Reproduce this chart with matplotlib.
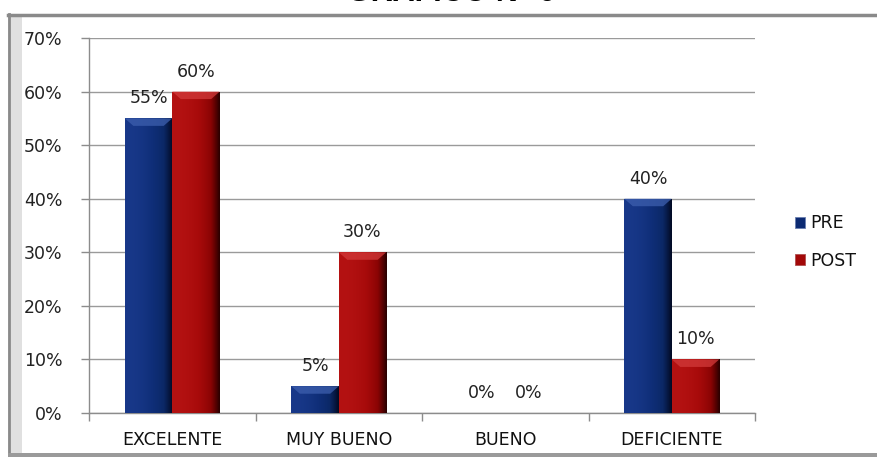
import numpy as np
import matplotlib
matplotlib.use("Agg")
import matplotlib.pyplot as plt
from matplotlib.patches import Rectangle, Polygon
from matplotlib.lines import Line2D
from matplotlib.colors import LinearSegmentedColormap

categories = ["EXCELENTE", "MUY BUENO", "BUENO", "DEFICIENTE"]
pre_values = [55, 5, 0, 40]
post_values = [60, 30, 0, 10]
series_names = ["PRE", "POST"]
y_ticks = [0, 10, 20, 30, 40, 50, 60, 70]
title_text = "GRÁFICO N° 6"

FONT = "DejaVu Sans"
FS = 12.5

W, H = 877, 457
fig = plt.figure(figsize=(W / 100, H / 100), dpi=100)
fig.patch.set_facecolor("white")

ax = fig.add_axes([89 / W, (H - 413) / H, (755 - 89) / W, (413 - 38) / H])
ax.set_facecolor("white")

x = np.arange(len(categories))
bw = 0.285
pre_col = "#0c2a72"
post_col = "#a30808"
bars_pre = ax.bar(x - bw / 2, pre_values, bw, color=pre_col, zorder=3, linewidth=0)
bars_post = ax.bar(x + bw / 2, post_values, bw, color=post_col, zorder=3, linewidth=0)

cm_pre = LinearSegmentedColormap.from_list("p", ["#183889", "#0f2e78", "#0b2866", "#020a24"])
cm_post = LinearSegmentedColormap.from_list("q", ["#b41212", "#a60a0a", "#8a0404", "#2a0000"])
grad = np.linspace(0, 1, 64).reshape(1, -1) ** 2
for bars, cm, light in ((bars_pre, cm_pre, "#3d5fae"), (bars_post, cm_post, "#d23a3a")):
    for b in bars:
        bx, by, bwid, bh = b.get_x(), b.get_y(), b.get_width(), b.get_height()
        if bh <= 0:
            continue
        im = ax.imshow(grad, extent=[bx, bx + bwid, by, by + bh], aspect="auto",
                       cmap=cm, zorder=3.5, interpolation="bicubic")
        im.set_clip_path(b)
        bev_y = min(1.4, bh * 0.5)
        bev_x = bwid * 0.18
        top = by + bh
        ax.add_patch(Polygon([[bx, top], [bx + bwid, top], [bx + bwid - bev_x, top - bev_y],
                              [bx + bev_x, top - bev_y]], closed=True, facecolor=light,
                             edgecolor="none", alpha=0.75, zorder=4))

# data labels
for bars, vals in ((bars_pre, pre_values), (bars_post, post_values)):
    for b, v in zip(bars, vals):
        ax.annotate(f"{v}%", (b.get_x() + b.get_width() / 2, v), xytext=(0, 14.4),
                    textcoords="offset points", ha="center", va="center",
                    fontsize=FS, family=FONT, color="#222222", zorder=6)

ax.set_xlim(-0.5, len(categories) - 0.5)
ax.set_ylim(0, 70)
ax.set_yticks(y_ticks)
ax.set_yticklabels([f"{t}%" for t in y_ticks], fontsize=FS, family=FONT, color="#222222")
ax.set_xticks(x)
ax.set_xticklabels(categories, fontsize=FS, family=FONT, color="#111111")
ax.set_xticks(np.arange(len(categories) + 1) - 0.5, minor=True)
ax.tick_params(axis="x", which="major", length=0, pad=13)
ax.tick_params(axis="x", which="minor", length=6, color="#8c8c8c", width=1)
ax.tick_params(axis="y", length=6, color="#8c8c8c", width=1, pad=13)
ax.grid(axis="y", color="#9a9a9a", linewidth=1, zorder=0)
for s in ("top", "right"):
    ax.spines[s].set_visible(False)
for s in ("left", "bottom"):
    ax.spines[s].set_color("#8c8c8c")
    ax.spines[s].set_linewidth(1)

# legend
handles = [Rectangle((0, 0), 1, 1, facecolor=pre_col, edgecolor="#6a7fb0", linewidth=0.6),
           Rectangle((0, 0), 1, 1, facecolor=post_col, edgecolor="#b05050", linewidth=0.6)]
leg = fig.legend(handles, series_names, loc="center left",
                 bbox_to_anchor=(779 / W, 1 - 242 / H), frameon=False,
                 handlelength=0.6, handleheight=0.6, handletextpad=0.3,
                 labelspacing=1.1, prop={"family": FONT, "size": FS})
for t in leg.get_texts():
    t.set_color("#111111")

# outer frame
fig.add_artist(Rectangle((8 / W, 4 / H), 14 / W, (H - 19) / H, transform=fig.transFigure,
                         facecolor="#e0e0e0", edgecolor="none", zorder=1))
fig.add_artist(Line2D([9 / W, 9 / W], [4 / H, 1 - 14 / H], transform=fig.transFigure,
                      color="#8a8a8a", linewidth=2))
fig.add_artist(Line2D([8 / W, 1], [1 - 15 / H, 1 - 15 / H], transform=fig.transFigure,
                      color="#8a8a8a", linewidth=2.5))
fig.add_artist(Rectangle((8 / W, 0), 1, 4.5 / H, transform=fig.transFigure,
                         facecolor="#9a9a9a", edgecolor="none", zorder=2))

# title (cut off by the top edge, as in the reference)
fig.text(451 / W, 1 - 1 / H, title_text, ha="center", va="baseline",
         fontsize=22, fontweight="bold", family="Liberation Sans", color="black")

fig.savefig("out.png", dpi=100, facecolor="white")
